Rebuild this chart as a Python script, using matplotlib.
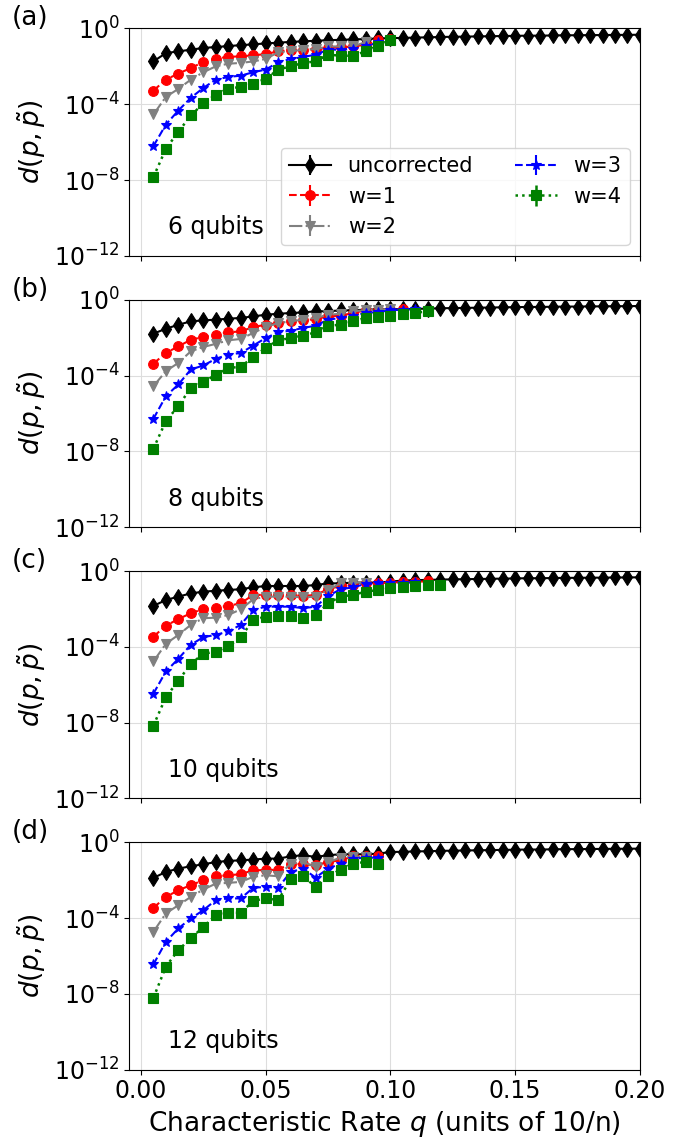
import numpy as np
import matplotlib
matplotlib.use('Agg')
import matplotlib.pyplot as plt

# q grid (units of 10/n), every 0.005 up to 0.2
q = np.linspace(0.005, 0.2, 40)

# values are log10 of d(p, p~)
unc_tail = [-0.50, -0.48, -0.47, -0.45, -0.44, -0.43, -0.42, -0.41, -0.40, -0.39,
            -0.38, -0.38, -0.37, -0.36, -0.36, -0.35, -0.35, -0.34, -0.34, -0.33]

# (a) 6 qubits
unc_a = [-1.74, -1.30, -1.21, -1.12, -1.03, -0.98, -0.93, -0.88, -0.84, -0.79,
         -0.75, -0.71, -0.68, -0.65, -0.62, -0.60, -0.58, -0.56, -0.53, -0.51]
w1_a = [-3.28, -2.70, -2.38, -2.09, -1.77, -1.59, -1.50, -1.47, -1.42, -1.35,
        -1.21, -1.16, -1.12, -1.09, -1.03, -1.00, -0.95, -0.86, -0.63, -0.56]
w2_a = [-4.54, -3.61, -3.19, -2.70, -2.31, -2.00, -1.86, -1.82, -1.74, -1.61,
        -1.26, -1.21, -1.12, -1.09, -0.95, -0.95, -0.95, -0.72]
w3_a = [-6.21, -5.07, -4.33, -3.66, -3.14, -2.70, -2.56, -2.49, -2.31, -2.17,
        -1.79, -1.61, -1.51, -1.38, -1.12, -1.12, -1.09, -0.95, -0.74]
w4_a = [-7.84, -6.35, -5.45, -4.59, -3.96, -3.49, -3.17, -3.09, -2.91, -2.66,
        -2.17, -2.00, -1.82, -1.74, -1.38, -1.44, -1.44, -1.21, -0.91, -0.59]

# (b) 8 qubits
unc_b = [-1.79, -1.53, -1.32, -1.14, -1.09, -1.05, -1.00, -0.96, -0.88, -0.79,
         -0.74, -0.70, -0.67, -0.61, -0.61, -0.56, -0.56, -0.52, -0.51, -0.50]
w1_b = [-3.37, -2.81, -2.46, -2.11, -1.96, -1.84, -1.72, -1.67, -1.44, -1.32,
        -1.23, -1.14, -1.09, -1.02, -0.88, -0.84, -0.70, -0.56, -0.53, -0.53, -0.50]
w2_b = [-4.56, -3.77, -3.33, -2.72, -2.49, -2.33, -2.14, -2.07, -1.75, -1.44,
        -1.23, -1.14, -1.05, -0.96, -0.79, -0.74, -0.61, -0.55, -0.52, -0.50]
w3_b = [-6.28, -5.09, -4.47, -3.68, -3.47, -3.12, -2.89, -2.81, -2.42, -2.02,
        -1.72, -1.63, -1.49, -1.37, -1.05, -0.96, -0.84, -0.70, -0.65, -0.56,
        -0.52, -0.50]
w4_b = [-7.86, -6.40, -5.61, -4.65, -4.35, -3.95, -3.60, -3.54, -3.02, -2.54,
        -2.14, -2.02, -1.89, -1.72, -1.37, -1.32, -1.14, -0.96, -0.91, -0.84,
        -0.75, -0.68, -0.62]

# (c) 10 qubits
unc_c = [-1.84, -1.53, -1.35, -1.18, -1.09, -1.04, -1.00, -0.96, -0.86, -0.79,
         -0.79, -0.79, -0.79, -0.74, -0.65, -0.65, -0.61, -0.61, -0.61, -0.56]
w1_c = [-3.46, -2.89, -2.53, -2.23, -2.00, -1.93, -1.84, -1.70, -1.26, -1.26,
        -1.26, -1.26, -1.32, -1.26, -0.96, -0.79, -0.74, -0.65, -0.65, -0.61,
        -0.58, -0.56, -0.55]
w2_c = [-4.77, -3.84, -3.37, -2.84, -2.49, -2.46, -2.32, -2.02, -1.49, -1.35,
        -1.35, -1.35, -1.39, -1.35, -1.00, -0.65, -0.61, -0.61]
w3_c = [-6.47, -5.30, -4.63, -3.89, -3.49, -3.37, -3.19, -2.84, -2.05, -1.88,
        -1.88, -1.88, -1.96, -1.88, -1.32, -0.96, -0.86, -0.68, -0.65, -0.65,
        -0.62, -0.60]
w4_c = [-8.16, -6.65, -5.79, -4.89, -4.37, -4.25, -3.98, -3.49, -2.58, -2.40,
        -2.37, -2.37, -2.49, -2.32, -1.70, -1.35, -1.26, -1.09, -1.00, -0.91,
        -0.86, -0.81, -0.76, -0.72]

# (d) 12 qubits
unc_d = [-1.88, -1.56, -1.39, -1.26, -1.16, -1.04, -0.98, -0.95, -0.91, -0.86,
         -0.86, -0.74, -0.68, -0.77, -0.68, -0.63, -0.63, -0.63, -0.60, -0.51]
w1_d = [-3.46, -2.88, -2.53, -2.26, -2.00, -1.79, -1.74, -1.68, -1.47, -1.47,
        -1.44, -1.12, -1.16, -1.21, -1.04, -0.95, -0.74, -0.74, -0.74]
w2_d = [-4.72, -3.75, -3.32, -2.88, -2.49, -2.18, -2.14, -2.09, -1.82, -1.74,
        -1.79, -1.12, -1.04, -1.30, -1.04, -0.81, -0.77, -0.77]
w3_d = [-6.44, -5.25, -4.54, -4.02, -3.58, -3.05, -2.96, -2.96, -2.40, -2.35,
        -2.40, -1.56, -1.39, -1.86, -1.39, -1.12, -0.86, -0.81, -0.81]
w4_d = [-8.21, -6.56, -5.68, -5.07, -4.46, -3.84, -3.72, -3.72, -3.09, -2.96,
        -3.05, -1.96, -1.79, -2.35, -1.79, -1.44, -1.12, -1.04, -1.16]

panels = [
    ('(a)', '6 qubits', [unc_a + unc_tail, w1_a, w2_a, w3_a, w4_a]),
    ('(b)', '8 qubits', [unc_b + unc_tail, w1_b, w2_b, w3_b, w4_b]),
    ('(c)', '10 qubits', [unc_c + unc_tail, w1_c, w2_c, w3_c, w4_c]),
    ('(d)', '12 qubits', [unc_d + unc_tail, w1_d, w2_d, w3_d, w4_d]),
]

labels = ['uncorrected', 'w=1', 'w=2', 'w=3', 'w=4']
colors = ['black', 'red', 'gray', 'blue', 'green']
markers = ['d', 'o', 'v', '*', 's']
styles = ['-', '--', '-.', '--', ':']
msizes = [8, 7, 7, 7.5, 6.5]
lwidths = [1.5, 1.5, 1.5, 1.5, 1.8]

plt.rcParams['font.size'] = 17

fig, axes = plt.subplots(4, 1, figsize=(6.83, 11.38), dpi=100, sharex=True)
fig.subplots_adjust(left=0.189, right=0.937, top=0.975, bottom=0.06, hspace=0.193)

for ax, (tag, title, series) in zip(axes, panels):
    for vals, lab, c, m, ls, ms, lw in zip(series, labels, colors, markers, styles, msizes, lwidths):
        y = 10.0 ** np.array(vals)
        ax.errorbar(q[:len(y)], y, yerr=0, color=c, marker=m, ls=ls, ms=ms, lw=lw,
                    mew=0.8, label=lab)
    ax.set_yscale('log')
    ax.set_ylim(1e-12, 1)
    ax.set_yticks([1e-12, 1e-8, 1e-4, 1])
    ax.minorticks_off()
    ax.set_xlim(right=0.2)
    ax.grid(True, color='#dddddd')
    ax.set_ylabel(r'$d(p,\tilde{p})$', fontsize=19)
    ax.text(0.076, 0.125, title, transform=ax.transAxes, va='center')
    ax.text(-0.23, 1.045, tag, transform=ax.transAxes, va='center', fontsize=19)

axes[0].legend(loc='lower right', ncol=2, fontsize=15)
axes[-1].set_xticks([0.0, 0.05, 0.10, 0.15, 0.20])
axes[-1].set_xlabel(r'Characteristic Rate $q$ (units of 10/n)', fontsize=19)

plt.savefig('out.png')
